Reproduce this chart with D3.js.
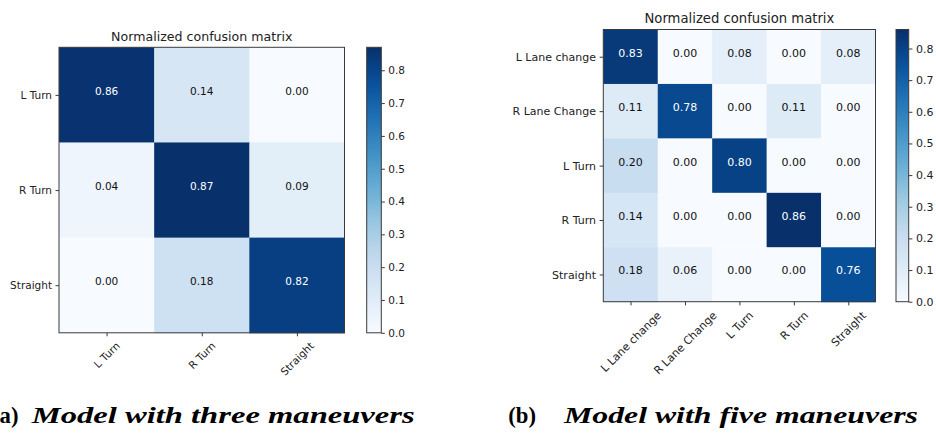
<!DOCTYPE html>
<html>
<head>
<meta charset="utf-8">
<script src="https://cdn.jsdelivr.net/npm/d3@7"></script>
<style>
  html, body { margin: 0; padding: 0; background: #fff; }
  svg { display: block; }
  .sans { font-family: "DejaVu Sans", sans-serif; }
  .caption { font-family: "Liberation Serif", "DejaVu Serif", serif; font-weight: bold; }
</style>
</head>
<body>
<svg id="fig" width="936" height="433"></svg>
<script>
// Class labels
const labelsThree = ["L Turn", "R Turn", "Straight"];
const labelsFive = ["L Lane change", "R Lane Change", "L Turn", "R Turn", "Straight"];

// Row-normalized confusion matrices (rows = true class, cols = predicted)
const matrixThree = [
  [0.86, 0.14, 0.00],
  [0.04, 0.87, 0.09],
  [0.00, 0.18, 0.82]
];
const matrixFive = [
  [0.83, 0.00, 0.08, 0.00, 0.08],
  [0.11, 0.78, 0.00, 0.11, 0.00],
  [0.20, 0.00, 0.80, 0.00, 0.00],
  [0.14, 0.00, 0.00, 0.86, 0.00],
  [0.18, 0.06, 0.00, 0.00, 0.76]
];

// Colorbar tick values
const cbarTicks = [0.0, 0.1, 0.2, 0.3, 0.4, 0.5, 0.6, 0.7, 0.8];

const chartTitle = "Normalized confusion matrix";
const captions = [
  { tag: "(a)", text: "Model with three maneuvers" },
  { tag: "(b)", text: "Model with five maneuvers" }
];

// Sequential "Blues" ramp (nine ColorBrewer stops, linear in between)
const bluesStops = ["#f7fbff", "#deebf7", "#c6dbef", "#9ecae1", "#6baed6",
                    "#4292c6", "#2171b5", "#08519c", "#08306b"];
const blues = d3.scaleLinear()
  .domain(d3.range(bluesStops.length).map(i => i / (bluesStops.length - 1)))
  .range(bluesStops)
  .interpolate(d3.interpolateRgb)
  .clamp(true);

const svg = d3.select("#fig");
const defs = svg.append("defs");
const spine = "#3a3a3a";

function drawMatrix(opt) {
  const { labels, matrix, x0, y0, size, fs, tfs, cbX, cbW, s, id } = opt;
  const g = svg.append("g").attr("class", "sans");
  const values = matrix.flat();
  const vmin = d3.min(values), vmax = d3.max(values);
  const norm = d3.scaleLinear().domain([vmin, vmax]).range([0, 1]);
  const color = v => blues(norm(v));

  const x = d3.scaleBand().domain(d3.range(labels.length)).range([x0, x0 + size]);
  const y = d3.scaleBand().domain(d3.range(labels.length)).range([y0, y0 + size]);

  const cells = matrix.flatMap((row, i) => row.map((v, j) => ({ i, j, v })));

  g.selectAll("rect.cell").data(cells).join("rect")
    .attr("class", "cell")
    .attr("x", d => x(d.j))
    .attr("y", d => y(d.i))
    .attr("width", x.bandwidth() + 0.5)
    .attr("height", y.bandwidth() + 0.5)
    .attr("fill", d => color(d.v));

  const thresh = vmax / 2;
  g.selectAll("text.val").data(cells).join("text")
    .attr("class", "val")
    .attr("x", d => x(d.j) + x.bandwidth() / 2)
    .attr("y", d => y(d.i) + y.bandwidth() / 2)
    .attr("text-anchor", "middle")
    .attr("font-size", fs)
    .attr("fill", d => d.v > thresh ? "#ffffff" : "#111111")
    .text(d => d.v.toFixed(2));

  // frame
  g.append("rect")
    .attr("x", x0).attr("y", y0).attr("width", size).attr("height", size)
    .attr("fill", "none").attr("stroke", spine).attr("stroke-width", 1);

  const tick = 3.5 * s, pad = 3.5 * s;

  // y axis
  const yAxis = d3.axisLeft(d3.scalePoint().domain(labels).range([y0 + y.bandwidth() / 2, y0 + size - y.bandwidth() / 2]))
    .tickSize(tick).tickPadding(pad);
  const ya = g.append("g").attr("transform", `translate(${x0},0)`).call(yAxis);
  ya.attr("font-family", null);
  ya.select(".domain").remove();
  ya.selectAll("line").attr("stroke", spine);
  ya.selectAll("text").attr("font-size", fs).attr("fill", "#222");

  // x axis with labels rotated 45 degrees, bounding boxes centred on ticks
  const xPoint = d3.scalePoint().domain(labels).range([x0 + x.bandwidth() / 2, x0 + size - x.bandwidth() / 2]);
  const xAxis = d3.axisBottom(xPoint).tickSize(tick).tickPadding(pad);
  const xa = g.append("g").attr("transform", `translate(0,${y0 + size})`).call(xAxis);
  xa.attr("font-family", null);
  xa.select(".domain").remove();
  xa.selectAll("line").attr("stroke", spine);
  xa.selectAll("text")
    .attr("font-size", fs).attr("fill", "#222")
    .attr("text-anchor", "middle")
    .attr("dy", "0.32em")
    .attr("y", 0)
    .each(function () {
      const w = this.getComputedTextLength();
      const h = fs * 1.17;
      const half = (w + h) * Math.SQRT1_2 / 2;
      d3.select(this).attr("transform", `translate(0,${tick + pad + half}) rotate(-45)`);
    });

  // title
  g.append("text")
    .attr("x", x0 + size / 2).attr("y", y0 - 6 * s)
    .attr("text-anchor", "middle").attr("font-size", tfs).attr("fill", "#222")
    .text(chartTitle);

  // colorbar
  const grad = defs.append("linearGradient").attr("id", id)
    .attr("x1", 0).attr("y1", 1).attr("x2", 0).attr("y2", 0);
  d3.range(0, 1.0001, 0.05).forEach(t => {
    grad.append("stop").attr("offset", t).attr("stop-color", blues(t));
  });
  g.append("rect").attr("x", cbX).attr("y", y0).attr("width", cbW).attr("height", size)
    .attr("fill", `url(#${id})`).attr("stroke", spine).attr("stroke-width", 1);
  const cScale = d3.scaleLinear().domain([vmin, vmax]).range([y0 + size, y0]);
  const cAxis = d3.axisRight(cScale).tickValues(cbarTicks).tickFormat(d3.format(".1f"))
    .tickSize(tick).tickPadding(pad);
  const ca = g.append("g").attr("transform", `translate(${cbX + cbW},0)`).call(cAxis);
  ca.attr("font-family", null);
  ca.select(".domain").remove();
  ca.selectAll("line").attr("stroke", spine);
  ca.selectAll("text").attr("font-size", fs).attr("fill", "#222");
}

drawMatrix({ labels: labelsThree, matrix: matrixThree, x0: 59, y0: 47.3, size: 285.5,
  fs: 10.5, tfs: 12.6, cbX: 366.7, cbW: 14.6, s: 1, id: "cbA" });
drawMatrix({ labels: labelsFive, matrix: matrixFive, x0: 603.3, y0: 29.5, size: 272.2,
  fs: 11, tfs: 13.2, cbX: 896, cbW: 12.7, s: 1.05, id: "cbB" });

// sub-figure captions
const capY = 423.3;
const capPos = [
  { tagEnd: 18.5, start: 31.7, len: 383 },
  { tagEnd: 536, start: 564, len: 354 }
];
captions.forEach((c, k) => {
  const p = capPos[k];
  svg.append("text")
    .attr("class", "caption")
    .attr("x", p.tagEnd).attr("y", capY).attr("text-anchor", "end")
    .attr("font-size", 22.7).attr("fill", "#000")
    .text(c.tag);
  svg.append("text")
    .attr("class", "caption")
    .attr("x", p.start).attr("y", capY)
    .style("font-style", "italic")
    .attr("font-size", 22.7).attr("fill", "#000")
    .attr("textLength", p.len).attr("lengthAdjust", "spacingAndGlyphs")
    .text(c.text);
});
</script>
</body>
</html>
